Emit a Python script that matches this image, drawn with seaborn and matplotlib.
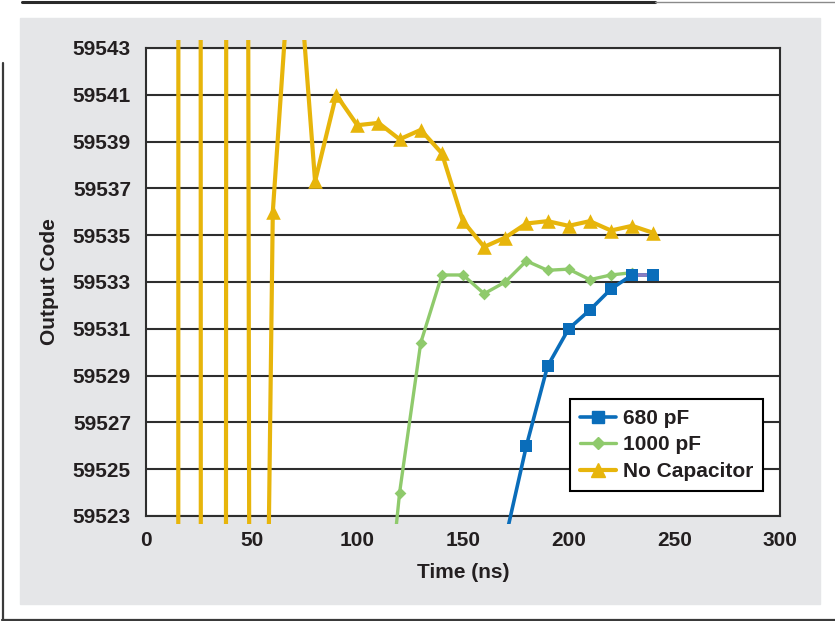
import numpy as np
import pandas as pd
import seaborn as sns
import matplotlib.pyplot as plt
from matplotlib.lines import Line2D
from matplotlib.patches import Rectangle
from matplotlib.transforms import Bbox, TransformedBbox

# valores (codigo de saida x tempo)
tempo_sem_cap = [10, 20, 30, 40, 50, 60, 70, 80, 90, 100, 110, 120,
                 130, 140, 150, 160, 170, 180, 190, 200, 210, 220, 230, 240]
codigo_sem_cap = [56950, 61830, 57940, 59957, 59464, 59536.0, 59549.2, 59537.3,
                  59541.0, 59539.7, 59539.8, 59539.1, 59539.5, 59538.5, 59535.6,
                  59534.5, 59534.9, 59535.5, 59535.6, 59535.4, 59535.6, 59535.2,
                  59535.4, 59535.1]

tempo_1000pf = [110, 120, 130, 140, 150, 160, 170, 180, 190, 200, 210, 220, 230]
codigo_1000pf = [59515.0, 59524.0, 59530.4, 59533.3, 59533.3, 59532.5, 59533.0,
                 59533.9, 59533.5, 59533.55, 59533.1, 59533.3, 59533.4]

tempo_680pf = [170, 180, 190, 200, 210, 220, 230, 240]
codigo_680pf = [59522.0, 59526.0, 59529.4, 59531.0, 59531.8, 59532.7, 59533.3, 59533.3]

# pequeno trecho lilas que aparece entre os dois ultimos quadrados
tempo_extra = [230, 240]
codigo_extra = [59533.3, 59533.3]

xticks = [0, 50, 100, 150, 200, 250, 300]
yticks = list(range(59523, 59544, 2))

azul = '#0A6DBA'
verde = '#8FCA6C'
amarelo = '#E7B50B'
lilas = '#8A7CC2'
texto = '#231F20'
grade = '#2E2E2E'

sns.set_style("white")
plt.rcParams['font.family'] = ['Liberation Sans', 'DejaVu Sans']
plt.rcParams['font.weight'] = 'bold'

fig = plt.figure(figsize=(8.35, 6.21), dpi=100)
W, H = 835, 621

# fundo cinza e moldura do recorte
fig.patches.append(Rectangle((20 / W, 1 - 604 / H), 800 / W, 586 / H,
                             transform=fig.transFigure, color='#E5E6E8', zorder=-5))
fig.lines.append(Line2D([2.5 / W, 2.5 / W], [1 - 63 / H, 1 - 619.5 / H],
                        transform=fig.transFigure, color='#3a3a3a', lw=1.6, zorder=-4))
fig.lines.append(Line2D([2 / W, 1], [1 - 619.5 / H, 1 - 619.5 / H],
                        transform=fig.transFigure, color='#3a3a3a', lw=1.6, zorder=-4))
fig.lines.append(Line2D([22 / W, 655 / W], [1 - 1.5 / H, 1 - 1.5 / H],
                        transform=fig.transFigure, color='#2a2a2a', lw=2.2, zorder=-4))
fig.lines.append(Line2D([655 / W, 1], [1 - 1.5 / H, 1 - 1.5 / H],
                        transform=fig.transFigure, color='#8a8a8a', lw=1.0, zorder=-4))

ax = fig.add_axes([146 / W, 1 - 516 / H, 634 / W, 468 / H])
ax.set_facecolor('white')

sns.lineplot(x=tempo_1000pf, y=codigo_1000pf, ax=ax, color=verde, lw=2.4, sort=False, zorder=3)
sns.lineplot(x=tempo_680pf, y=codigo_680pf, ax=ax, color=azul, lw=2.6, sort=False, zorder=4)
sns.lineplot(x=tempo_extra, y=codigo_extra, ax=ax, color=lilas, lw=2.6, sort=False, zorder=5)
sns.lineplot(x=tempo_sem_cap, y=codigo_sem_cap, ax=ax, color=amarelo, lw=3.0, sort=False, zorder=6)

# as linhas passam um pouco alem da area do grafico (como no original)
folga = 8 / 468
caixa = TransformedBbox(Bbox.from_extents(0, -folga, 1, 1 + folga), ax.transAxes)
for linha in ax.get_lines():
    linha.set_clip_path(None)
    linha.set_clip_box(caixa)

sns.scatterplot(x=tempo_1000pf, y=codigo_1000pf, ax=ax, color=verde, marker='D',
                s=6.0 ** 2, linewidth=0, zorder=7)
sns.scatterplot(x=tempo_680pf, y=codigo_680pf, ax=ax, color=azul, marker='s',
                s=9.0 ** 2, linewidth=0, zorder=8)
sns.scatterplot(x=tempo_sem_cap, y=codigo_sem_cap, ax=ax, color=amarelo, marker='^',
                s=10.5 ** 2, linewidth=0, zorder=9)

ax.set_xlim(0, 300)
ax.set_ylim(59523, 59543)
ax.set_xticks(xticks)
ax.set_xticklabels([str(v) for v in xticks])
ax.set_yticks(yticks)
ax.set_yticklabels([str(v) for v in yticks])

ax.yaxis.grid(True, color=grade, linewidth=1.5)
ax.xaxis.grid(False)
ax.set_axisbelow(True)
for lado in ['left', 'right', 'top', 'bottom']:
    ax.spines[lado].set_visible(True)
    ax.spines[lado].set_color(grade)
    ax.spines[lado].set_linewidth(1.5)

ax.tick_params(axis='both', direction='out', length=4, width=1.2, color=grade,
               pad=6.8, labelsize=15, labelcolor=texto)
for rotulo in ax.get_xticklabels() + ax.get_yticklabels():
    rotulo.set_fontweight('bold')

ax.set_xlabel('Time (ns)', fontsize=15, fontweight='bold', color=texto, labelpad=9)
ax.set_ylabel('Output Code', fontsize=15, fontweight='bold', color=texto, labelpad=10)

alca = [
    Line2D([], [], color=azul, lw=2.6, marker='s', ms=9),
    Line2D([], [], color=verde, lw=2.4, marker='D', ms=6),
    Line2D([], [], color=amarelo, lw=3.0, marker='^', ms=10.5),
]
leg = ax.legend(alca, ['680 pF', '1000 pF', 'No Capacitor'],
                loc='upper left', bbox_to_anchor=(569.5 / W, 1 - 398.5 / H),
                bbox_transform=fig.transFigure, frameon=True, fancybox=False,
                edgecolor='black', framealpha=1, handlelength=1.75,
                handletextpad=0.3, labelspacing=0.36, borderpad=0.5,
                borderaxespad=0, prop={'size': 15, 'weight': 'bold'})
leg.get_frame().set_linewidth(1.5)
for t in leg.get_texts():
    t.set_color(texto)

fig.savefig('out.png', dpi=100)
plt.close(fig)
